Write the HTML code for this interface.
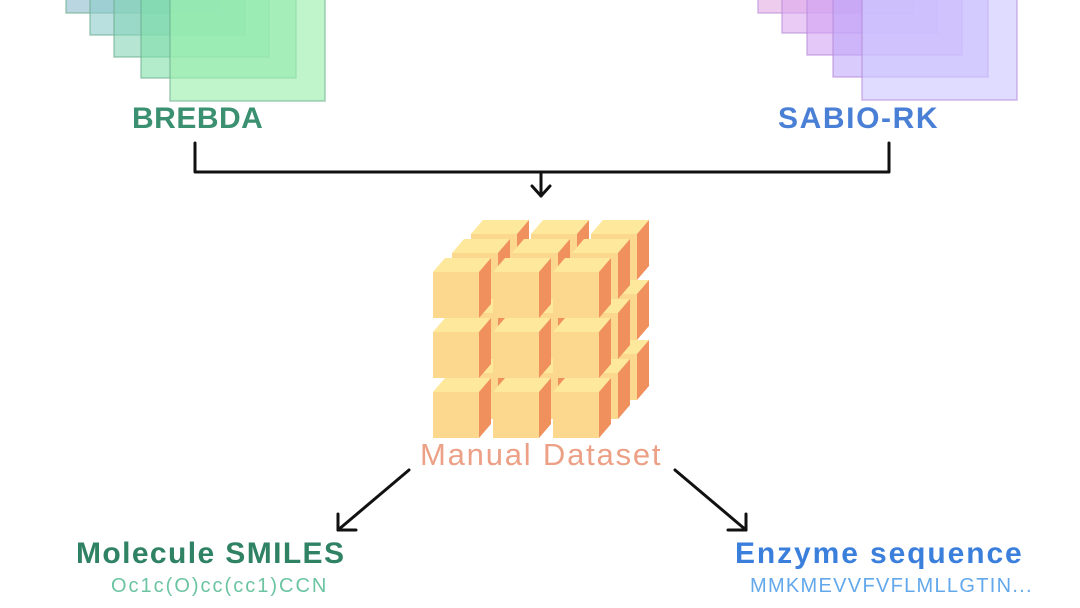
<!DOCTYPE html>
<html><head><meta charset="utf-8"><style>
html,body{margin:0;padding:0;background:#fff;}
body{width:1080px;height:608px;overflow:hidden;position:relative;font-family:"Liberation Sans",sans-serif;}
.t{position:absolute;white-space:nowrap;}
</style></head><body>
<svg width="1080" height="608" style="position:absolute;left:0;top:0">
<defs>
<g id="c">
<rect x="0" y="14" width="46" height="46" fill="#fcd88e"/>
<polygon points="0,14 12,0 58,0 46,14" fill="#fde89c"/>
<polygon points="46,14 58,0 58,46 46,60" fill="#f0905c"/>
</g>
</defs>
<g stroke="#6cae8e" stroke-width="1.5" stroke-opacity="0.6">
<rect x="66" y="-142" width="155" height="155" fill="#9cc4d4" fill-opacity="0.7"/>
<rect x="90" y="-120" width="155" height="155" fill="#8ccaca" fill-opacity="0.6"/>
<rect x="114" y="-98" width="155" height="155" fill="#86d4b8" fill-opacity="0.6"/>
<rect x="141" y="-77" width="155" height="155" fill="#7fe0a8" fill-opacity="0.6"/>
<rect x="170" y="-54" width="155" height="155" fill="#9ef0b0" fill-opacity="0.65"/>
</g>
<g stroke="#b58ad8" stroke-width="1.5" stroke-opacity="0.6">
<rect x="758" y="-142" width="155" height="155" fill="#e6b6e6" fill-opacity="0.7"/>
<rect x="782" y="-122" width="155" height="155" fill="#dca8ee" fill-opacity="0.6"/>
<rect x="807" y="-100" width="155" height="155" fill="#d0a4f4" fill-opacity="0.6"/>
<rect x="833" y="-78" width="155" height="155" fill="#c0a8fa" fill-opacity="0.6"/>
<rect x="862" y="-55" width="155" height="155" fill="#cfcaff" fill-opacity="0.65"/>
</g>
<g fill="none" stroke="#111" stroke-width="3" stroke-linejoin="round" stroke-linecap="round">
<polyline points="195,143 195,172 889,172 889,143"/>
<line x1="541" y1="172" x2="541" y2="196"/>
<polyline points="532,186 541,196 550,186"/>
<line x1="409" y1="470" x2="338" y2="530"/>
<polyline points="338,514 338,530 356,530"/>
<line x1="675" y1="470" x2="746" y2="530"/>
<polyline points="746,514 746,530 728,530"/>
</g>
<use href="#c" x="591" y="220"/><use href="#c" x="531" y="220"/><use href="#c" x="471" y="220"/>
<use href="#c" x="591" y="280"/><use href="#c" x="531" y="280"/><use href="#c" x="471" y="280"/>
<use href="#c" x="591" y="340"/><use href="#c" x="531" y="340"/><use href="#c" x="471" y="340"/>
<use href="#c" x="572" y="239"/><use href="#c" x="512" y="239"/><use href="#c" x="452" y="239"/>
<use href="#c" x="572" y="299"/><use href="#c" x="512" y="299"/><use href="#c" x="452" y="299"/>
<use href="#c" x="572" y="359"/><use href="#c" x="512" y="359"/><use href="#c" x="452" y="359"/>
<use href="#c" x="553" y="258"/><use href="#c" x="493" y="258"/><use href="#c" x="433" y="258"/>
<use href="#c" x="553" y="318"/><use href="#c" x="493" y="318"/><use href="#c" x="433" y="318"/>
<use href="#c" x="553" y="378"/><use href="#c" x="493" y="378"/><use href="#c" x="433" y="378"/>
</svg>
<div class="t" style="left:132px;top:102px;font-size:30px;font-weight:bold;color:#3a9070;letter-spacing:0.5px;">BREBDA</div>
<div class="t" style="left:778px;top:102px;font-size:30px;font-weight:bold;color:#4a7fd6;letter-spacing:1.6px;">SABIO-RK</div>
<div class="t" style="left:420px;top:437px;font-size:31px;color:#eca086;letter-spacing:1.8px;">Manual Dataset</div>
<div class="t" style="left:76px;top:537px;font-size:30px;font-weight:bold;color:#2f8264;letter-spacing:1.4px;">Molecule SMILES</div>
<div class="t" style="left:111px;top:575px;font-size:20px;color:#6cc4a2;letter-spacing:2px;">Oc1c(O)cc(cc1)CCN</div>
<div class="t" style="left:735px;top:537px;font-size:30px;font-weight:bold;color:#3b7fdc;letter-spacing:1.9px;">Enzyme sequence</div>
<div class="t" style="left:750px;top:575px;font-size:20px;color:#62a8ea;letter-spacing:1.3px;">MMKMEVVFVFLMLLGTIN...</div>
</body></html>
